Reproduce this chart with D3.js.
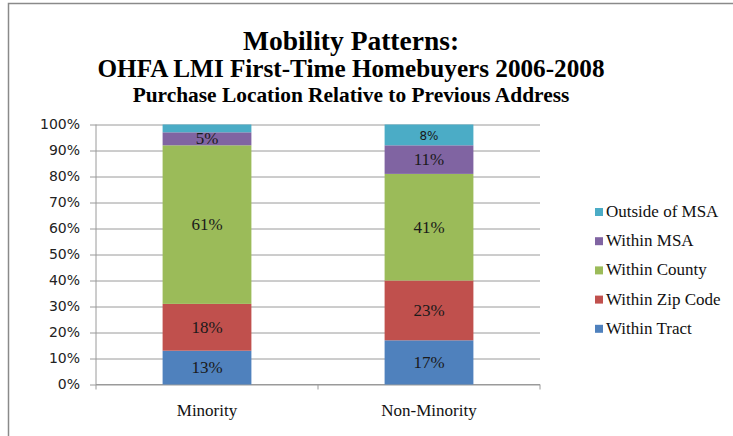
<!DOCTYPE html>
<meta charset="utf-8">
<html>
<head>
<title>Mobility Patterns</title>
<script src="https://d3js.org/d3.v7.min.js"></script>
<style>
  body {margin: 0; background: #fff;}
  .tick text {font: 14px "DejaVu Sans"; fill: #222;}
  .title {font-family: "Liberation Serif"; font-weight: bold; fill: #000; text-anchor: middle;}
  .cat {font: 17px "Liberation Serif"; fill: #111; text-anchor: middle;}
  .legend text {font: 17px "Liberation Serif"; fill: #111;}
  .lbl {font-family: "Liberation Serif"; fill: #1a1a1a; text-anchor: middle;}
</style>
</head>
<body>
<svg id="chart" width="733" height="436"></svg>
<script>
// data
var groups = ["Minority", "Non-Minority"];
var series = ["Within Tract", "Within Zip Code", "Within County", "Within MSA", "Outside of MSA"];
var minority = [13, 18, 61, 5, 3];
var nonMinority = [17, 23, 41, 11, 8];
var minorityLabels = ["13%", "18%", "61%", "5%", ""];
var nonMinorityLabels = ["17%", "23%", "41%", "11%", "8%"];
var yTicks = [0, 10, 20, 30, 40, 50, 60, 70, 80, 90, 100];
var colors = ["#4F81BD", "#C0504D", "#9BBB59", "#8064A2", "#4BACC6"];

var svg = d3.select("#chart"),
    margin = {top: 124.5, left: 96, right: 193, bottom: 51.5},
    width = +svg.attr("width") - margin.left - margin.right,
    height = +svg.attr("height") - margin.top - margin.bottom;

// outer frame
svg.append("path")
    .attr("d", "M8.5,440V3.5H740")
    .attr("fill", "none")
    .attr("stroke", "#8a8a8a")
    .attr("stroke-width", 1.5);

var titles = [
  {t: "Mobility Patterns:", y: 50, s: 27.5},
  {t: "OHFA LMI First-Time Homebuyers 2006-2008", y: 77, s: 25.2},
  {t: "Purchase Location Relative to Previous Address", y: 102, s: 21.4}
];
svg.selectAll(".title").data(titles).enter().append("text")
    .attr("class", "title")
    .attr("x", 351)
    .attr("y", function(d) { return d.y; })
    .style("font-size", function(d) { return d.s + "px"; })
    .text(function(d) { return d.t; });

var g = svg.append("g").attr("transform", "translate(" + margin.left + "," + margin.top + ")");

var x = d3.scaleBand().domain(groups).range([0, width]).paddingInner(0.6).paddingOuter(0.3);
var y = d3.scaleLinear().domain([0, 100]).range([height, 0]);

// gridlines + y axis
var yAxis = d3.axisLeft(y).tickValues(yTicks).tickFormat(function(d) { return d + "%"; })
    .tickSize(-width - 6).tickSizeOuter(0).tickPadding(10);
var ya = g.append("g").attr("transform", "translate(-6,0)").call(yAxis);
ya.select(".domain").remove();
ya.selectAll(".tick line").attr("stroke", "#9a9a9a").attr("transform", "translate(6,0)").attr("x2", width).attr("x1", 0);
ya.selectAll(".tick").append("line").attr("x1", 0).attr("x2", 6).attr("stroke", "#9a9a9a");

g.append("line").attr("x1", 0).attr("x2", 0).attr("y1", 0).attr("y2", height).attr("stroke", "#9a9a9a");

// x axis line and ticks between categories
g.append("line").attr("x1", 0).attr("x2", width).attr("y1", height).attr("y2", height).attr("stroke", "#9a9a9a");
g.selectAll(".xt").data([0, width / 2, width]).enter().append("line")
    .attr("x1", function(d) { return d; }).attr("x2", function(d) { return d; })
    .attr("y1", height).attr("y2", height + 5).attr("stroke", "#9a9a9a");

g.selectAll(".cat").data(groups).enter().append("text")
    .attr("class", "cat")
    .attr("x", function(d) { return x(d) + x.bandwidth() / 2; })
    .attr("y", height + 31)
    .text(function(d) { return d; });

var table = groups.map(function(gr, i) {
  var vals = i === 0 ? minority : nonMinority;
  var labs = i === 0 ? minorityLabels : nonMinorityLabels;
  var o = {group: gr, labels: labs};
  series.forEach(function(s, j) { o[s] = vals[j]; });
  return o;
});

var stacked = d3.stack().keys(series)(table);

var layer = g.selectAll(".layer").data(stacked).enter().append("g")
    .attr("fill", function(d, i) { return colors[i]; });

layer.selectAll("rect").data(function(d) { return d; }).enter().append("rect")
    .attr("x", function(d) { return x(d.data.group); })
    .attr("width", x.bandwidth())
    .attr("y", function(d) { return y(d[1]); })
    .attr("height", function(d) { return y(d[0]) - y(d[1]); });

layer.each(function(s, si) {
  d3.select(this).selectAll("text").data(s).enter().append("text")
      .attr("class", "lbl")
      .attr("x", function(d) { return x(d.data.group) + x.bandwidth() / 2; })
      .attr("y", function(d) { return (y(d[0]) + y(d[1])) / 2 + 5.5; })
      .style("font-size", function(d) { return si === 4 ? "12px" : "17px"; })
      .style("font-family", function(d) { return si === 4 ? "DejaVu Sans" : null; })
      .attr("fill", "#1a1a1a")
      .text(function(d) { return d.data.labels[si]; });
});

// legend, top item is last series
var legend = svg.append("g").attr("class", "legend")
    .attr("transform", "translate(595,212)");
var items = legend.selectAll("g").data(series.slice().reverse()).enter().append("g")
    .attr("transform", function(d, i) { return "translate(0," + i * 29.2 + ")"; });
items.append("rect").attr("x", 0).attr("y", -4).attr("width", 8).attr("height", 8)
    .attr("fill", function(d) { return colors[series.indexOf(d)]; });
items.append("text").attr("x", 11).attr("y", 5).text(function(d) { return d; });
</script>
</body>
</html>
